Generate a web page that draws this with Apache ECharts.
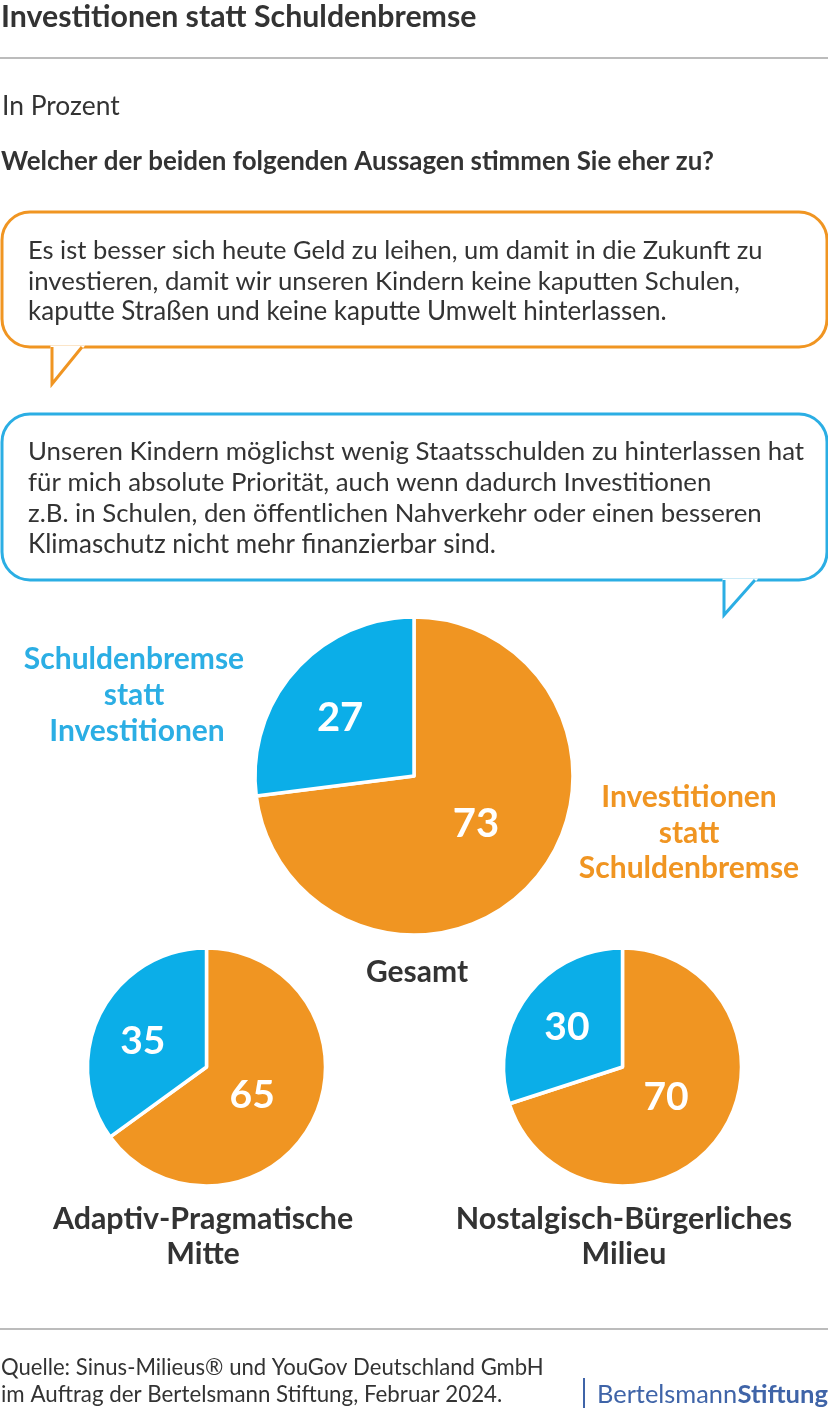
<!DOCTYPE html>
<html lang="de">
<head>
<meta charset="utf-8">
<title>Investitionen statt Schuldenbremse</title>
<style>
  html, body { margin: 0; padding: 0; background: #fff; }
  #chart { width: 828px; height: 1410px; }
</style>
<script src="https://cdn.jsdelivr.net/npm/echarts@6/dist/echarts.min.js"></script>
</head>
<body>
<div id="chart"></div>
<script>
  // Antworten, Reihenfolge im Uhrzeigersinn ab 12 Uhr
  var answers = ['Investitionen statt Schuldenbremse', 'Schuldenbremse statt Investitionen'];
  var gesamtValues = [73, 27];
  var adaptivValues = [65, 35];
  var nostalgischValues = [70, 30];

  var ORANGE = '#F09522';
  var BLUE = '#0BAEE8';
  var BLUE_LINE = '#2BAEE4';
  var TEXT = '#333333';
  var LOGO = '#3F64A8';
  var FONT = 'Lato, "Open Sans", sans-serif';

  function pieSeries(name, values, center, radius, labelSize, offsets) {
    return {
      name: name,
      type: 'pie',
      silent: true,
      animation: false,
      startAngle: 90,
      clockwise: true,
      center: center,
      radius: [0, radius],
      itemStyle: { borderColor: '#ffffff', borderWidth: 3.5 },
      labelLine: { show: false },
      label: {
        show: true,
        position: 'inside',
        formatter: '{c}',
        color: '#ffffff',
        fontFamily: FONT,
        fontWeight: 700,
        fontSize: labelSize
      },
      data: values.map(function (v, i) {
        return {
          name: answers[i],
          value: v,
          itemStyle: { color: i === 0 ? ORANGE : BLUE },
          label: { offset: offsets[i] }
        };
      })
    };
  }

  function text(str, x, y, size, opts) {
    opts = opts || {};
    return {
      type: 'text',
      silent: true,
      x: x,
      y: y,
      style: {
        text: str,
        fontFamily: FONT,
        fontSize: size,
        fontWeight: opts.weight || 400,
        fill: opts.color || TEXT,
        align: opts.align || 'left',
        verticalAlign: 'middle'
      }
    };
  }

  function rule(y) {
    return {
      type: 'line',
      silent: true,
      shape: { x1: 0, y1: y, x2: 828, y2: y },
      style: { stroke: '#a6a6a6', lineWidth: 1.5 }
    };
  }

  // Sprechblase: Rahmen, weisse Luecke im Rahmen, Zipfel [x links, x rechts, y Spitze]
  function bubble(top, bottom, tail, color) {
    return [
      {
        type: 'rect',
        silent: true,
        shape: { x: 2, y: top, width: 825, height: bottom - top, r: 28 },
        style: { fill: '#ffffff', stroke: color, lineWidth: 3 }
      },
      {
        type: 'polygon',
        silent: true,
        shape: { points: [[tail[0], bottom], [tail[0], tail[2]], [tail[1], bottom]] },
        style: { fill: '#ffffff', stroke: '#ffffff', lineWidth: 3 }
      },
      {
        type: 'polyline',
        silent: true,
        shape: { points: [[tail[0], bottom], [tail[0], tail[2]], [tail[1], bottom]] },
        style: { fill: 'none', stroke: color, lineWidth: 3 }
      }
    ];
  }

  var chart = echarts.init(document.getElementById('chart'), null, { renderer: 'canvas' });

  var elements = [
    text('Investitionen statt Schuldenbremse', 1, 17, 30.3, { weight: 700 }),
    rule(58),
    text('In Prozent', 2, 106, 26.4),
    text('Welcher der beiden folgenden Aussagen stimmen Sie eher zu?', 1, 162, 25.9, { weight: 700 })
  ].concat(
    bubble(212, 347, [52, 82, 384], ORANGE),
    [
      text('Es ist besser sich heute Geld zu leihen, um damit in die Zukunft zu', 28, 251, 25.5),
      text('investieren, damit wir unseren Kindern keine kaputten Schulen,', 28, 282, 25.8),
      text('kaputte Straßen und keine kaputte Umwelt hinterlassen.', 28, 312, 26)
    ],
    bubble(414, 580, [724, 755, 615], BLUE_LINE),
    [
      text('Unseren Kindern möglichst wenig Staatsschulden zu hinterlassen hat', 28, 452, 25.85),
      text('für mich absolute Priorität, auch wenn dadurch Investitionen', 28, 483, 25.8),
      text('z.B. in Schulen, den öffentlichen Nahverkehr oder einen besseren', 28, 514, 25.8),
      text('Klimaschutz nicht mehr finanzierbar sind.', 28, 545, 26),

      text('Schuldenbremse', 134, 659, 30, { weight: 700, color: BLUE_LINE, align: 'center' }),
      text('statt', 134, 695, 30, { weight: 700, color: BLUE_LINE, align: 'center' }),
      text('Investitionen', 137, 731, 30, { weight: 700, color: BLUE_LINE, align: 'center' }),

      text('Investitionen', 689, 797, 30, { weight: 700, color: ORANGE, align: 'center' }),
      text('statt', 689, 833, 30, { weight: 700, color: ORANGE, align: 'center' }),
      text('Schuldenbremse', 689, 868, 30, { weight: 700, color: ORANGE, align: 'center' }),

      text('Gesamt', 417, 972, 30, { weight: 700, align: 'center' }),
      text('Adaptiv-Pragmatische', 203, 1219, 30.4, { weight: 700, align: 'center' }),
      text('Mitte', 203, 1254, 30.4, { weight: 700, align: 'center' }),
      text('Nostalgisch-Bürgerliches', 624, 1219, 30.4, { weight: 700, align: 'center' }),
      text('Milieu', 624, 1254, 30.4, { weight: 700, align: 'center' }),

      rule(1329),
      text('Quelle: Sinus-Milieus® und YouGov Deutschland GmbH', 1, 1368, 22.1),
      text('im Auftrag der Bertelsmann Stiftung, Februar 2024.', 1, 1395, 22.3),
      {
        type: 'line',
        silent: true,
        shape: { x1: 584, y1: 1378, x2: 584, y2: 1408 },
        style: { stroke: LOGO, lineWidth: 2 }
      },
      text('Bertelsmann', 597, 1395, 25.4, { color: LOGO }),
      text('Stiftung', 828, 1395, 25.6, { color: LOGO, weight: 700, align: 'right' })
    ]
  );

  chart.setOption({
    backgroundColor: '#ffffff',
    animation: false,
    tooltip: { show: false },
    legend: { show: false },
    series: [
      pieSeries('Gesamt', gesamtValues, [414, 776], 159, 40, [[0, -6], [-12, -3]]),
      pieSeries('Adaptiv-Pragmatische Mitte', adaptivValues, [206.5, 1067], 119, 39, [[-10, 0], [-8, 3]]),
      pieSeries('Nostalgisch-Bürgerliches Milieu', nostalgischValues, [622.5, 1067], 119, 39, [[-7, -6], [-5, -3]])
    ],
    graphic: { elements: elements }
  });
</script>
</body>
</html>
